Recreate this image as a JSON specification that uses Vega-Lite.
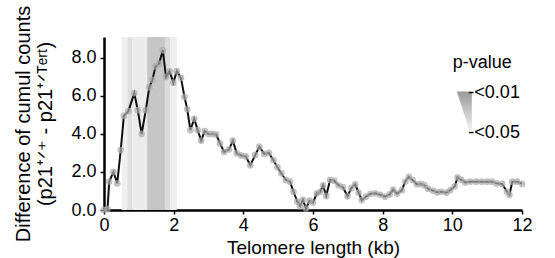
{
  "$schema": "https://vega.github.io/schema/vega-lite/v6.json",
  "width": 418,
  "height": 173,
  "autosize": {"type": "none"},
  "padding": {"left": 104, "top": 37, "right": 33, "bottom": 48},
  "config": {
    "font": "Liberation Sans",
    "view": {"stroke": null},
    "axis": {"grid": false, "labelFlush": false, "domainColor": "#000", "domainWidth": 2.5, "tickColor": "#000", "tickWidth": 1.5, "tickSize": 4, "labelColor": "#000", "titleColor": "#000", "labelFont": "Liberation Sans", "titleFont": "Liberation Sans", "labelFontSize": 18, "titleFontSize": 19, "titleFontWeight": "normal"}
  },
  "datasets": {
    "curve": [
      {"kb": 0.0, "d": 0.0}, {"kb": 0.1, "d": 0.05}, {"kb": 0.15, "d": 1.5}, {"kb": 0.27, "d": 2.0}, {"kb": 0.38, "d": 1.4},
      {"kb": 0.48, "d": 3.15}, {"kb": 0.57, "d": 4.95}, {"kb": 0.7, "d": 5.2}, {"kb": 0.87, "d": 6.15}, {"kb": 0.97, "d": 5.25},
      {"kb": 1.08, "d": 4.0}, {"kb": 1.2, "d": 5.25}, {"kb": 1.3, "d": 6.45}, {"kb": 1.39, "d": 6.85}, {"kb": 1.48, "d": 7.55},
      {"kb": 1.58, "d": 7.7}, {"kb": 1.69, "d": 8.4}, {"kb": 1.78, "d": 7.0}, {"kb": 1.88, "d": 7.3}, {"kb": 1.99, "d": 6.7},
      {"kb": 2.09, "d": 7.3}, {"kb": 2.21, "d": 6.95}, {"kb": 2.31, "d": 5.95}, {"kb": 2.39, "d": 5.3}, {"kb": 2.48, "d": 4.2},
      {"kb": 2.59, "d": 4.8}, {"kb": 2.69, "d": 4.2}, {"kb": 2.79, "d": 3.65}, {"kb": 2.89, "d": 4.15}, {"kb": 3.0, "d": 4.0},
      {"kb": 3.11, "d": 4.0}, {"kb": 3.22, "d": 3.98}, {"kb": 3.33, "d": 3.5}, {"kb": 3.45, "d": 3.05}, {"kb": 3.59, "d": 3.19},
      {"kb": 3.7, "d": 3.65}, {"kb": 3.81, "d": 2.98}, {"kb": 3.94, "d": 2.87}, {"kb": 4.07, "d": 2.82}, {"kb": 4.2, "d": 2.35},
      {"kb": 4.34, "d": 2.89}, {"kb": 4.46, "d": 3.33}, {"kb": 4.6, "d": 2.95}, {"kb": 4.73, "d": 3.0}, {"kb": 4.86, "d": 2.63},
      {"kb": 4.98, "d": 2.25}, {"kb": 5.09, "d": 1.93}, {"kb": 5.22, "d": 1.58}, {"kb": 5.34, "d": 1.49}, {"kb": 5.44, "d": 0.96},
      {"kb": 5.55, "d": 0.44}, {"kb": 5.63, "d": 0.2}, {"kb": 5.71, "d": 0.53}, {"kb": 5.8, "d": 0.08}, {"kb": 5.9, "d": 0.49},
      {"kb": 6.0, "d": 0.39}, {"kb": 6.11, "d": 0.88}, {"kb": 6.21, "d": 0.96}, {"kb": 6.29, "d": 1.3}, {"kb": 6.38, "d": 0.74},
      {"kb": 6.49, "d": 1.58}, {"kb": 6.61, "d": 1.54}, {"kb": 6.73, "d": 1.3}, {"kb": 6.86, "d": 1.2}, {"kb": 6.99, "d": 0.72},
      {"kb": 7.1, "d": 1.15}, {"kb": 7.21, "d": 1.35}, {"kb": 7.31, "d": 0.92}, {"kb": 7.4, "d": 0.52}, {"kb": 7.52, "d": 0.7},
      {"kb": 7.65, "d": 0.85}, {"kb": 7.79, "d": 0.88}, {"kb": 7.93, "d": 0.8}, {"kb": 8.07, "d": 0.7}, {"kb": 8.2, "d": 0.82},
      {"kb": 8.3, "d": 1.07}, {"kb": 8.41, "d": 0.86}, {"kb": 8.55, "d": 1.04}, {"kb": 8.65, "d": 1.5}, {"kb": 8.75, "d": 1.74},
      {"kb": 8.86, "d": 1.58}, {"kb": 8.98, "d": 1.36}, {"kb": 9.1, "d": 1.37}, {"kb": 9.2, "d": 1.3}, {"kb": 9.3, "d": 1.12},
      {"kb": 9.44, "d": 1.02}, {"kb": 9.56, "d": 0.93}, {"kb": 9.68, "d": 0.96}, {"kb": 9.83, "d": 0.91}, {"kb": 9.94, "d": 1.05},
      {"kb": 10.07, "d": 1.25}, {"kb": 10.15, "d": 1.72}, {"kb": 10.25, "d": 1.6}, {"kb": 10.37, "d": 1.45}, {"kb": 10.52, "d": 1.49},
      {"kb": 10.69, "d": 1.49}, {"kb": 10.85, "d": 1.49}, {"kb": 11.0, "d": 1.49}, {"kb": 11.14, "d": 1.49}, {"kb": 11.27, "d": 1.4},
      {"kb": 11.43, "d": 1.37}, {"kb": 11.57, "d": 0.96}, {"kb": 11.64, "d": 0.8}, {"kb": 11.72, "d": 1.49}, {"kb": 11.86, "d": 1.49},
      {"kb": 12.0, "d": 1.37}
    ],
    "bands": [
      {"from": 0.51, "to": 0.67, "p": 0.048},
      {"from": 0.67, "to": 0.82, "p": 0.034},
      {"from": 0.82, "to": 1.24, "p": 0.045},
      {"from": 1.24, "to": 1.75, "p": 0.012},
      {"from": 1.75, "to": 1.9, "p": 0.03},
      {"from": 1.9, "to": 2.09, "p": 0.047}
    ],
    "wedge": [
      {"lv": 6.23, "a": 10.13, "b": 10.56},
      {"lv": 4.12, "a": 10.5, "b": 10.56}
    ],
    "legendTitle": [
      {"tx": 10.86, "ty": 7.74, "label": "p-value"}
    ],
    "legendLabels": [
      {"tx": 10.46, "ty": 6.17, "label": "-<0.01"},
      {"tx": 10.46, "ty": 4.07, "label": "-<0.05"}
    ]
  },
  "layer": [
    {
      "data": {"name": "bands"},
      "mark": {"type": "rect"},
      "encoding": {
        "x": {"field": "from", "type": "quantitative", "scale": {"domain": [0, 12]}},
        "x2": {"field": "to"},
        "color": {"field": "p", "type": "quantitative", "scale": {"domain": [0.01, 0.05], "range": ["#c4c4c4", "#f2f2f2"]}, "legend": null}
      }
    },
    {
      "data": {"name": "curve"},
      "mark": {"type": "line", "color": "#111", "strokeWidth": 2},
      "encoding": {
        "x": {"field": "kb", "type": "quantitative", "scale": {"domain": [0, 12], "nice": false}, "axis": {"values": [0, 2, 4, 6, 8, 10, 12], "format": "d", "title": "Telomere length (kb)", "labelPadding": 2, "titlePadding": 4}},
        "y": {"field": "d", "type": "quantitative", "scale": {"domain": [0, 9.1], "nice": false}, "axis": {"values": [0, 1, 2, 3, 4, 5, 6, 7, 8, 9], "labelExpr": "datum.value % 2 == 0 ? format(datum.value, '.1f') : ''", "title": ["Difference of cumul counts", "(p21⁺ᐟ⁺ - p21⁺ᐟᵀᵉʳᵗ)"], "titleFontSize": 20, "labelPadding": 4, "titlePadding": 15}}
      }
    },
    {
      "data": {"name": "curve"},
      "mark": {"type": "circle", "color": "#aaaaaa", "opacity": 0.7, "size": 45},
      "encoding": {
        "x": {"field": "kb", "type": "quantitative"},
        "y": {"field": "d", "type": "quantitative"}
      }
    },
    {
      "data": {"name": "wedge"},
      "mark": {"type": "area", "orient": "horizontal", "color": {"gradient": "linear", "x1": 0, "y1": 0, "x2": 0, "y2": 1, "stops": [{"offset": 0, "color": "#9a9a9a"}, {"offset": 1, "color": "#f4f4f4"}]}},
      "encoding": {
        "y": {"field": "lv", "type": "quantitative"},
        "x": {"field": "a", "type": "quantitative"},
        "x2": {"field": "b"}
      }
    },
    {
      "data": {"name": "legendTitle"},
      "mark": {"type": "text", "fontSize": 18, "color": "#000", "baseline": "middle", "align": "center"},
      "encoding": {
        "x": {"field": "tx", "type": "quantitative"},
        "y": {"field": "ty", "type": "quantitative"},
        "text": {"field": "label"}
      }
    },
    {
      "data": {"name": "legendLabels"},
      "mark": {"type": "text", "fontSize": 18, "color": "#000", "baseline": "middle", "align": "left"},
      "encoding": {
        "x": {"field": "tx", "type": "quantitative"},
        "y": {"field": "ty", "type": "quantitative"},
        "text": {"field": "label"}
      }
    }
  ]
}
